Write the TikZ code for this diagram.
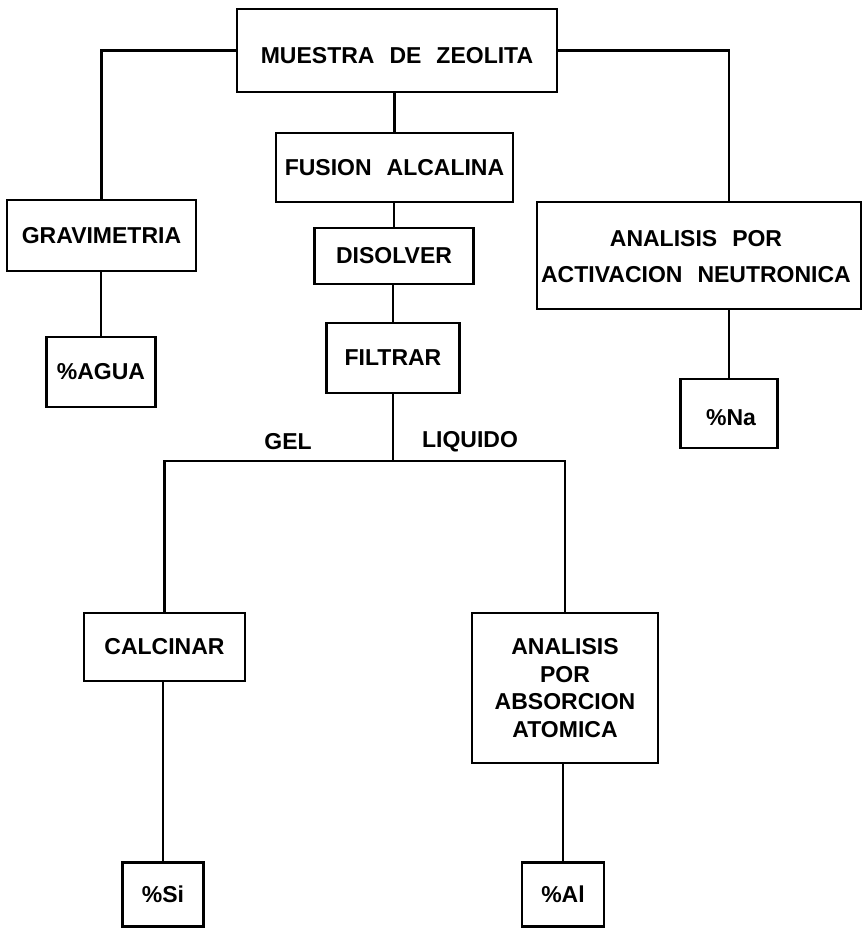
\documentclass[tikz,border=0pt]{standalone}
\usepackage{fontspec}
\setmainfont{Liberation Sans}
\newcommand\zboxfont{\fontsize{23}{27.5}\selectfont\bfseries\spaceskip=15pt\relax}
\begin{document}
\begin{tikzpicture}[x=1pt,y=-1pt,
  txt/.style={inner sep=0pt,align=center,font=\zboxfont},
  box/.style={txt,draw,line width=2.2pt},
  conn/.style={line width=2.2pt}]
\useasboundingbox (0,0) rectangle (864,928);
% boxes
\node[box,minimum width=320pt,minimum height=83pt] (muestra) at (397,50.5) {};
\node[txt] (muestratxt) at (397,56) {MUESTRA DE ZEOLITA};
\node[box,minimum width=237pt,minimum height=69pt] (fusion) at (394.5,167.5) {FUSION ALCALINA};
\node[box,minimum width=159pt,minimum height=56pt] (disolver) at (394,256) {DISOLVER};
\node[box,minimum width=133pt,minimum height=70pt] (filtrar) at (393,358) {FILTRAR};
\node[box,minimum width=189pt,minimum height=71pt] (grav) at (101.5,235.5) {GRAVIMETRIA};
\node[box,minimum width=109pt,minimum height=70pt] (agua) at (101,372) {\%AGUA};
\node[box,minimum width=324pt,minimum height=107pt] (neut) at (699,255.5) {};
\node[txt] (neuttxt) at (696,256.5) {ANALISIS POR\\[9pt]ACTIVACION NEUTRONICA};
\node[box,minimum width=97pt,minimum height=69pt] (na) at (729,413.5) {};
\node[txt] (natxt) at (731,418) {\%Na};
\node[box,minimum width=161pt,minimum height=68pt] (calcinar) at (164.5,647) {CALCINAR};
\node[box,minimum width=186pt,minimum height=150pt] (abs) at (565,688) {ANALISIS\\POR\\ABSORCION\\ATOMICA};
\node[box,minimum width=81pt,minimum height=64pt] (si) at (163,894.5) {\%Si};
\node[box,minimum width=82pt,minimum height=64pt] (al) at (563,894.5) {\%Al};
% labels
\node[txt] (gel) at (288,442) {GEL};
\node[txt] (liq) at (470,442) {LIQUIDO};
% helper
\coordinate (splity) at (0,461);
\coordinate (split) at (filtrar.south |- splity);
% connectors
\draw[conn] (muestra.west) -| (grav.north);
\draw[conn] (muestra.east) -| (na.north |- neut.north);
\draw[conn] (fusion.north) -- (fusion.north |- muestra.south);
\draw[conn] (disolver.north) -- (disolver.north |- fusion.south);
\draw[conn] (filtrar.north) -- (filtrar.north |- disolver.south);
\draw[conn] (agua.north) -- (agua.north |- grav.south);
\draw[conn] (na.north) -- (na.north |- neut.south);
\draw[conn] (filtrar.south) -- (split);
\draw[conn] (calcinar.north) |- (split) -| (abs.north);
\draw[conn] (si.north) -- (si.north |- calcinar.south);
\draw[conn] (al.north) -- (al.north |- abs.south);
\end{tikzpicture}
\end{document}
